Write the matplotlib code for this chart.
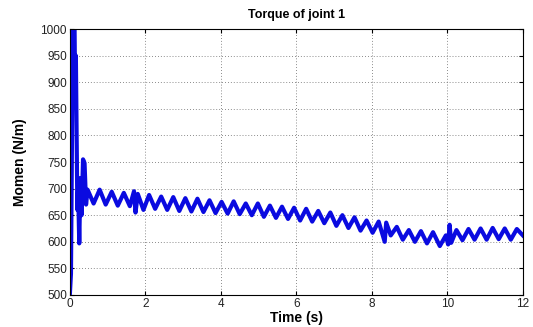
import numpy as np
import matplotlib.pyplot as plt

# ─────────────────────────────────────────────
# Data (time in s, torque in N/m)
# ─────────────────────────────────────────────
# start-up transient
t_start = [0.00, 0.03, 0.06, 0.08, 0.12, 0.14, 0.16, 0.18, 0.20, 0.22,
           0.25, 0.28, 0.31, 0.35, 0.39, 0.43]
m_start = [500, 540, 820, 1050, 1050, 880, 950, 800, 660, 700,
           597, 720, 650, 755, 748, 670]

# steady oscillation: alternating peaks and troughs
t_osc = [0.47, 0.63, 0.79, 0.95, 1.11, 1.27, 1.43, 1.59, 1.70, 1.74,
         1.80, 1.95, 2.10, 2.26, 2.42, 2.58, 2.74, 2.90, 3.06, 3.22,
         3.38, 3.54, 3.70, 3.86, 4.02, 4.18, 4.34, 4.50, 4.66, 4.82,
         4.98, 5.14, 5.30, 5.46, 5.62, 5.78, 5.94, 6.10, 6.26, 6.42,
         6.58, 6.74, 6.90, 7.06, 7.22, 7.38, 7.54, 7.70, 7.86, 8.02,
         8.18, 8.34, 8.38, 8.50, 8.66, 8.82, 8.98, 9.14, 9.30, 9.46,
         9.62, 9.80, 9.96, 10.02, 10.06, 10.10, 10.24, 10.40, 10.56, 10.72,
         10.88, 11.04, 11.20, 11.36, 11.52, 11.68, 11.84, 12.00]
m_osc = [698, 672, 698, 670, 694, 668, 692, 667, 695, 655,
         690, 660, 688, 662, 685, 660, 684, 658, 682, 657,
         681, 656, 678, 654, 675, 653, 676, 652, 672, 650,
         672, 647, 668, 645, 666, 643, 664, 640, 662, 638,
         658, 635, 655, 630, 650, 626, 646, 621, 640, 617,
         638, 600, 636, 612, 628, 604, 622, 600, 620, 597,
         618, 592, 612, 595, 632, 598, 622, 603, 624, 604,
         625, 604, 626, 605, 625, 604, 624, 612]

x_ticks = [0, 2, 4, 6, 8, 10, 12]
y_ticks = [500, 550, 600, 650, 700, 750, 800, 850, 900, 950, 1000]

# ─────────────────────────────────────────────
# Figure
# ─────────────────────────────────────────────
plt.rcParams['font.family'] = ['Liberation Sans', 'DejaVu Sans']

fig = plt.figure(figsize=(5.33, 3.27), dpi=100)
ax = fig.add_axes([0.131, 0.098, 0.850, 0.813])

ax.plot(t_start + t_osc, m_start + m_osc, color="#0a0ae0", lw=3.0,
        solid_joinstyle="round")

ax.set_xlim(0, 12)
ax.set_ylim(500, 1000)
ax.set_xticks(x_ticks)
ax.set_yticks(y_ticks)
ax.tick_params(direction="in", top=True, right=True, labelsize=8.5,
               labelcolor="#222222", length=3, width=0.8, pad=2)
ax.grid(True, linestyle=(0, (1, 2.5)), color="#666666", linewidth=0.6)
for s in ax.spines.values():
    s.set_linewidth(0.8)

ax.set_title("Torque of joint 1", fontsize=9, fontweight="bold", pad=8)
ax.set_xlabel("Time (s)", fontsize=10, fontweight="bold", labelpad=1)
ax.set_ylabel("Momen (N/m)", fontsize=10, fontweight="bold", labelpad=10)

fig.savefig("out.png", dpi=100)
